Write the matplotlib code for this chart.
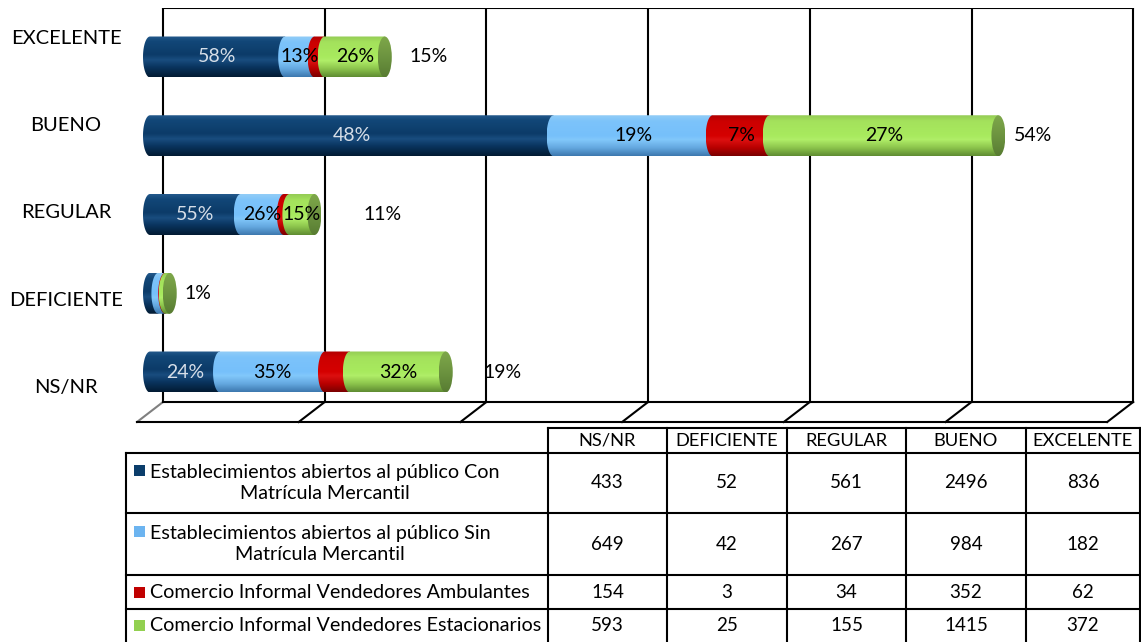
import numpy as np
import matplotlib.pyplot as plt
from matplotlib.colors import LinearSegmentedColormap
from matplotlib.patches import Polygon, Ellipse, Rectangle

plt.rcParams['font.family'] = ['Lato', 'DejaVu Sans']

# data
categories = ["NS/NR", "DEFICIENTE", "REGULAR", "BUENO", "EXCELENTE"]
series_names = [
    "Establecimientos abiertos al público Con\nMatrícula Mercantil",
    "Establecimientos abiertos al público Sin\nMatrícula Mercantil",
    "Comercio Informal Vendedores Ambulantes",
    "Comercio Informal Vendedores Estacionarios",
]
con_matricula = [433, 52, 561, 2496, 836]
sin_matricula = [649, 42, 267, 984, 182]
ambulantes = [154, 3, 34, 352, 62]
estacionarios = [593, 25, 155, 1415, 372]

series = [con_matricula, sin_matricula, ambulantes, estacionarios]

# labels that Excel left out on the original
hidden_labels = {("EXCELENTE", 2), ("REGULAR", 2), ("NS/NR", 2),
                 ("DEFICIENTE", 0), ("DEFICIENTE", 1), ("DEFICIENTE", 2), ("DEFICIENTE", 3)}
total_label_nudge = [31, 8, 42, 8, 18]  # px, same order as categories

# styles
flat_colors = ['#0B3D6B', '#6CB4F0', '#C00000', '#92D050']
gradients = [
    [(0, '#245A8C'), (0.12, '#124778'), (0.45, '#0C3B68'), (0.58, '#194D7F'), (0.75, '#0A3560'), (1, '#021B33')],
    [(0, '#92CDF7'), (0.15, '#7CC3FA'), (0.5, '#76C0FB'), (0.6, '#82C8FB'), (0.8, '#64A8E0'), (1, '#3D78AE')],
    [(0, '#B00000'), (0.15, '#CC0000'), (0.5, '#D50000'), (0.6, '#DD1010'), (0.8, '#B80000'), (1, '#7A0000')],
    [(0, '#94CB55'), (0.15, '#A4E25C'), (0.5, '#A8EA5E'), (0.6, '#B0EE68'), (0.8, '#8CC44C'), (1, '#5F8C32')],
]
cap_gradient = [(0, '#7EA84A'), (0.5, '#6D9440'), (1, '#587C32')]
label_colors = ['#D6DEE8', 'black', 'black', 'black']

W, H = 1141, 642
fig = plt.figure(figsize=(W / 100, H / 100), dpi=100)

# chart area layout, pixels
L, R, T, B = 128, 1141, 8, 424
X0 = 150.0          # pixel of value 0
PPU = 161.7 / 1000  # pixels per unit
Y0 = 372.0          # pixel of first row centre
ROW = 78.75         # pixels between rows

ax = fig.add_axes([L / W, 1 - B / H, (R - L) / W, (B - T) / H])
ax.axis('off')


def dx(p):
    return p / PPU


def dy(p):
    return p / ROW


# back wall and floor
y_top = dy(Y0 - 8)
y_back = dy(Y0 - 402)
y_front = dy(Y0 - 422)
ticks = np.arange(0, 7) * 1000
xb = ticks + dx(13)
xf = ticks - dx(13)
for k in range(len(ticks)):
    ax.plot([xb[k], xb[k]], [y_back, y_top], color='black', lw=1.5, zorder=1)
    ax.plot([xb[k], xf[k]], [y_back, y_front], color='#808080' if k == 0 else 'black', lw=1.5, zorder=1)
ax.plot([xb[0], xb[-1]], [y_top, y_top], color='black', lw=1.5, zorder=1)
ax.plot([xb[0], xb[-1]], [y_back, y_back], color='black', lw=1.5, zorder=1)
ax.plot([xf[0], xf[-1]], [y_front, y_front], color='black', lw=1.5, zorder=1)

bar_h = dy(41)
cap_a = dx(7)
grad = np.linspace(0, 1, 200)[:, None]
cmaps = [LinearSegmentedColormap.from_list('s%d' % j, g) for j, g in enumerate(gradients)]
cap_cmap = LinearSegmentedColormap.from_list('cap', cap_gradient)

totals = np.sum(series, axis=0)
grand = totals.sum()
t = np.linspace(np.pi / 2, 3 * np.pi / 2, 40)

for i, cat in enumerate(categories):
    left = 0.0
    for j, vals in enumerate(series):
        v = vals[i]
        x0, x1 = left, left + v
        top, bot = i + bar_h / 2, i - bar_h / 2
        arc = np.column_stack([x0 + cap_a * np.cos(t), i + bar_h / 2 * np.sin(t)])
        pts = np.vstack([[[x1, top]], arc[:1], arc, [[x1, bot]]])
        shape = Polygon(pts, closed=True, facecolor='none', edgecolor='none')
        ax.add_patch(shape)
        im = ax.imshow(grad, cmap=cmaps[j], extent=[x0 - cap_a, x1, bot, top],
                       aspect='auto', interpolation='bilinear', zorder=3 + j * 0.1)
        im.set_clip_path(shape)
        if (cat, j) not in hidden_labels:
            pct = round(v / totals[i] * 100)
            ax.text((x0 + x1) / 2, i, '%d%%' % pct, ha='center', va='center',
                    fontsize=14, color=label_colors[j], zorder=6)
        left = x1
    cap = Ellipse((left, i), 2 * cap_a, bar_h, facecolor='none', edgecolor='none')
    ax.add_patch(cap)
    im = ax.imshow(grad, cmap=cap_cmap, extent=[left - cap_a, left + cap_a, i - bar_h / 2, i + bar_h / 2],
                   aspect='auto', interpolation='bilinear', zorder=4)
    im.set_clip_path(cap)

    ax.text(left + dx(7 + total_label_nudge[i]), i, '%d%%' % round(totals[i] / grand * 100),
            ha='left', va='center', fontsize=14, zorder=6)
    ax.text(dx(66 - X0), dy(Y0 - 388) + i * dy(87.5), cat, ha='center', va='center',
            fontsize=14.5, clip_on=False)

ax.set_xlim(dx(L - X0), dx(R - X0))
ax.set_ylim(dy(Y0 - B), dy(Y0 - T))

# data table
tax = fig.add_axes([0, 0, 1, 1])
tax.set_xlim(0, W)
tax.set_ylim(H, 0)
tax.axis('off')
tax.set_zorder(-1)

cols = [548, 667, 787, 906, 1026, 1140]
rows = [453, 513, 575, 609, 642]
lw = 1.5
tax.plot([cols[0], cols[-1]], [428, 428], color='black', lw=lw)
for y in rows[:-1]:
    tax.plot([126, cols[-1]], [y, y], color='black', lw=lw)
tax.plot([126, 126], [rows[0], H], color='black', lw=lw)
for x in cols:
    tax.plot([x, x], [428, H], color='black', lw=lw)

for c, cat in enumerate(categories):
    cx = (cols[c] + cols[c + 1]) / 2
    tax.text(cx, 440.5, cat, ha='center', va='center', fontsize=13.2)
    for j, vals in enumerate(series):
        cy = (rows[j] + rows[j + 1]) / 2
        tax.text(cx, cy, str(vals[c]), ha='center', va='center', fontsize=13.5)

for j, name in enumerate(series_names):
    cy = (rows[j] + rows[j + 1]) / 2
    sq_y = cy - 13 if '\n' in name else cy
    tax.add_patch(Rectangle((134, sq_y - 5.5), 11, 11, facecolor=flat_colors[j], edgecolor='none'))
    tax.text(150, cy, name, ha='left', va='center', multialignment='center',
             fontsize=14.2, linespacing=1.3)

fig.savefig('out.png', dpi=100)
